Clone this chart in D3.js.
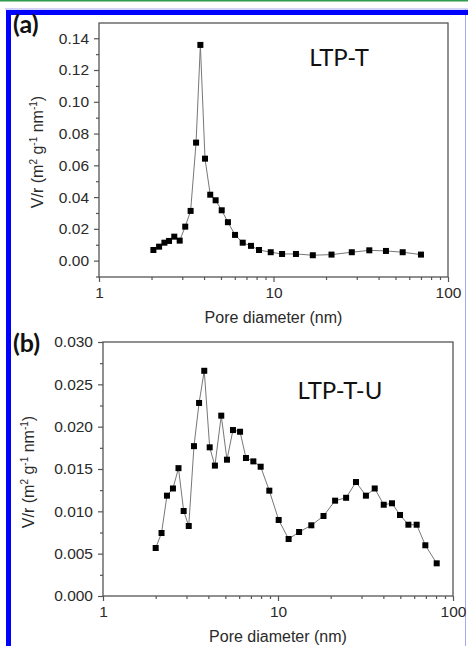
<!DOCTYPE html>
<meta charset="utf-8">
<head>
<script src="https://d3js.org/d3.v7.min.js"></script>
<style>
body { margin: 0; background: #fff; }
svg { display: block; }
</style>
</head>
<body>
<script>
// pore size distributions
var ltpT_d = [2.05, 2.21, 2.37, 2.52, 2.70, 2.90, 3.12, 3.35, 3.60, 3.81, 4.05, 4.34, 4.66, 5.05, 5.48, 6.02, 6.66, 7.43, 8.26, 9.64, 11.2, 13.45, 16.8, 21.5, 28.1, 35.4, 44.1, 55.0, 70.0]
var ltpT_v = [0.0067, 0.0088, 0.0113, 0.0124, 0.0151, 0.0126, 0.0214, 0.0313, 0.0743, 0.1358, 0.0642, 0.0415, 0.0380, 0.0317, 0.0242, 0.0162, 0.0113, 0.0093, 0.0067, 0.0053, 0.0042, 0.0042, 0.0034, 0.0038, 0.0053, 0.0065, 0.0061, 0.0053, 0.0038]

var ltpTU_d = [2.00, 2.16, 2.32, 2.51, 2.70, 2.89, 3.09, 3.31, 3.54, 3.79, 4.07, 4.36, 4.74, 5.11, 5.53, 6.07, 6.56, 7.23, 7.96, 8.92, 10.09, 11.5, 13.2, 15.5, 18.2, 21.2, 24.5, 27.9, 31.8, 35.7, 40.2, 44.8, 49.8, 55.6, 62.0, 69.5, 80.7]
var ltpTU_v = [0.00567, 0.00744, 0.01185, 0.0127, 0.0151, 0.01004, 0.00827, 0.0177, 0.0228, 0.0266, 0.01756, 0.0154, 0.0213, 0.0161, 0.0196, 0.0194, 0.0163, 0.0159, 0.01527, 0.01244, 0.00898, 0.00673, 0.00756, 0.00835, 0.00945, 0.01126, 0.0116, 0.01346, 0.01185, 0.0127, 0.01078, 0.01095, 0.00957, 0.00842, 0.00842, 0.00599, 0.00386]

var xTicks = [1, 10, 100]
var xMinor = [2,3,4,5,6,7,8,9,20,30,40,50,60,70,80,90]
var yTicksA = [0.00, 0.02, 0.04, 0.06, 0.08, 0.10, 0.12, 0.14]
var yMinorA = [-0.01, 0.01, 0.03, 0.05, 0.07, 0.09, 0.11, 0.13]
var yTicksB = [0.000, 0.005, 0.010, 0.015, 0.020, 0.025, 0.030]
var yMinorB = [0.0025, 0.0075, 0.0125, 0.0175, 0.0225, 0.0275]

width = 468
height = 646
var axisCol = "#555"
var textCol = "#2a2a2a"
var font = "'Liberation Sans', Arial, sans-serif"

var svg = d3.select("body").append("svg")
  .attr("width", width)
  .attr("height", height)

// page decoration round the figure
svg.append("rect").attr("x", 0).attr("y", 0).attr("width", width).attr("height", 1.5).attr("fill", "#2f9a4a")
svg.append("line").attr("x1", 5).attr("x2", width).attr("y1", 9).attr("y2", 9).attr("stroke", "#a8a8f0")
svg.append("line").attr("x1", 465.5).attr("x2", 465.5).attr("y1", 9).attr("y2", height).attr("stroke", "#a8a8f0")
svg.append("rect").attr("x", 6).attr("y", 10).attr("width", width - 6).attr("height", 5).attr("fill", "#0000ff")
svg.append("rect").attr("x", 6).attr("y", 10).attr("width", 5).attr("height", height - 10).attr("fill", "#0000ff")

function panel(cfg) {
  var x = d3.scaleLog().domain([1, 100]).range([cfg.left, cfg.right])
  var y = d3.scaleLinear().domain(cfg.yDomain).range([cfg.bottom, cfg.top])
  var g = svg.append("g")

  // x axis
  g.append("g")
    .attr("transform", `translate(0,${cfg.bottom})`)
    .call(d3.axisBottom(x).tickValues(xTicks).tickSize(5).tickPadding(5).tickFormat(d3.format("d")))
    .call(a => a.select(".domain").remove())
    .call(a => a.selectAll("line").attr("stroke", axisCol).attr("stroke-width", 1.2))
    .call(a => a.selectAll("text").attr("font-size", 15.5).attr("font-family", font).attr("fill", textCol))
  g.append("g")
    .attr("transform", `translate(0,${cfg.bottom})`)
    .call(d3.axisBottom(x).tickValues(xMinor).tickSize(3).tickFormat(""))
    .call(a => a.select(".domain").remove())
    .call(a => a.selectAll("line").attr("stroke", axisCol).attr("stroke-width", 1.2))

  // y axis
  g.append("g")
    .attr("transform", `translate(${cfg.left},0)`)
    .call(d3.axisLeft(y).tickValues(cfg.yTicks).tickSize(5).tickPadding(5).tickFormat(d3.format(cfg.yFmt)))
    .call(a => a.select(".domain").remove())
    .call(a => a.selectAll("line").attr("stroke", axisCol).attr("stroke-width", 1.2))
    .call(a => a.selectAll("text").attr("font-size", 15.5).attr("font-family", font).attr("fill", textCol))
  g.append("g")
    .attr("transform", `translate(${cfg.left},0)`)
    .call(d3.axisLeft(y).tickValues(cfg.yMinor).tickSize(3).tickFormat(""))
    .call(a => a.select(".domain").remove())
    .call(a => a.selectAll("line").attr("stroke", axisCol).attr("stroke-width", 1.2))

  // frame
  g.append("rect")
    .attr("x", cfg.left).attr("y", cfg.top)
    .attr("width", cfg.right - cfg.left).attr("height", cfg.bottom - cfg.top)
    .attr("fill", "none").attr("stroke", axisCol).attr("stroke-width", 1.3)

  var pts = cfg.d.map((d, i) => [d, cfg.v[i]])
  g.append("path")
    .datum(pts)
    .attr("fill", "none")
    .attr("stroke", "#777")
    .attr("stroke-width", 1)
    .attr("d", d3.line().x(d => x(d[0])).y(d => y(d[1])))
  g.append("g").selectAll("rect")
    .data(pts)
    .join("rect")
      .attr("x", d => x(d[0]) - 3)
      .attr("y", d => y(d[1]) - 3)
      .attr("width", 6).attr("height", 6)
      .attr("fill", "#000")

  // axis titles
  g.append("text")
    .attr("x", (cfg.left + cfg.right) / 2)
    .attr("y", cfg.bottom + 46)
    .attr("text-anchor", "middle")
    .attr("font-size", 16).attr("font-family", font).attr("fill", textCol)
    .text("Pore diameter (nm)")

  var yt = g.append("text")
    .attr("transform", `translate(${cfg.ytx},${cfg.yty}) rotate(-90)`)
    .attr("text-anchor", "middle")
    .attr("font-size", 16).attr("font-family", font).attr("fill", textCol)
  yt.append("tspan").text("V/r  (m")
  yt.append("tspan").attr("font-size", 10).attr("dy", -6).text("2")
  yt.append("tspan").attr("dy", 6).text(" g")
  yt.append("tspan").attr("font-size", 10).attr("dy", -6).text("-1")
  yt.append("tspan").attr("dy", 6).text(" nm")
  yt.append("tspan").attr("font-size", 10).attr("dy", -6).text("-1")
  yt.append("tspan").attr("dy", 6).text(")")

  g.append("text")
    .attr("x", cfg.nameX).attr("y", cfg.nameY)
    .attr("text-anchor", "middle")
    .attr("font-size", 24).attr("font-family", "Lato, 'Open Sans', sans-serif").attr("fill", "#111")
    .text(cfg.name)

  g.append("text")
    .attr("x", cfg.tagX).attr("y", cfg.tagY)
    .attr("font-size", 25).attr("font-weight", "bold").attr("font-family", "Lato, 'Open Sans', sans-serif").attr("fill", "#111")
    .text(cfg.tag)
}

panel({
  left: 99, right: 448, top: 23, bottom: 277,
  yDomain: [-0.0103, 0.1496], yTicks: yTicksA, yMinor: yMinorA, yFmt: ".2f",
  d: ltpT_d, v: ltpT_v,
  ytx: 43, yty: 152,
  name: "LTP-T", nameX: 339, nameY: 66,
  tag: "(a)", tagX: 13, tagY: 33
})

panel({
  left: 103, right: 453, top: 342, bottom: 596,
  yDomain: [0, 0.03], yTicks: yTicksB, yMinor: yMinorB, yFmt: ".3f",
  d: ltpTU_d, v: ltpTU_v,
  ytx: 34, yty: 472,
  name: "LTP-T-U", nameX: 340, nameY: 399,
  tag: "(b)", tagX: 13, tagY: 352
})
</script>
</body>
